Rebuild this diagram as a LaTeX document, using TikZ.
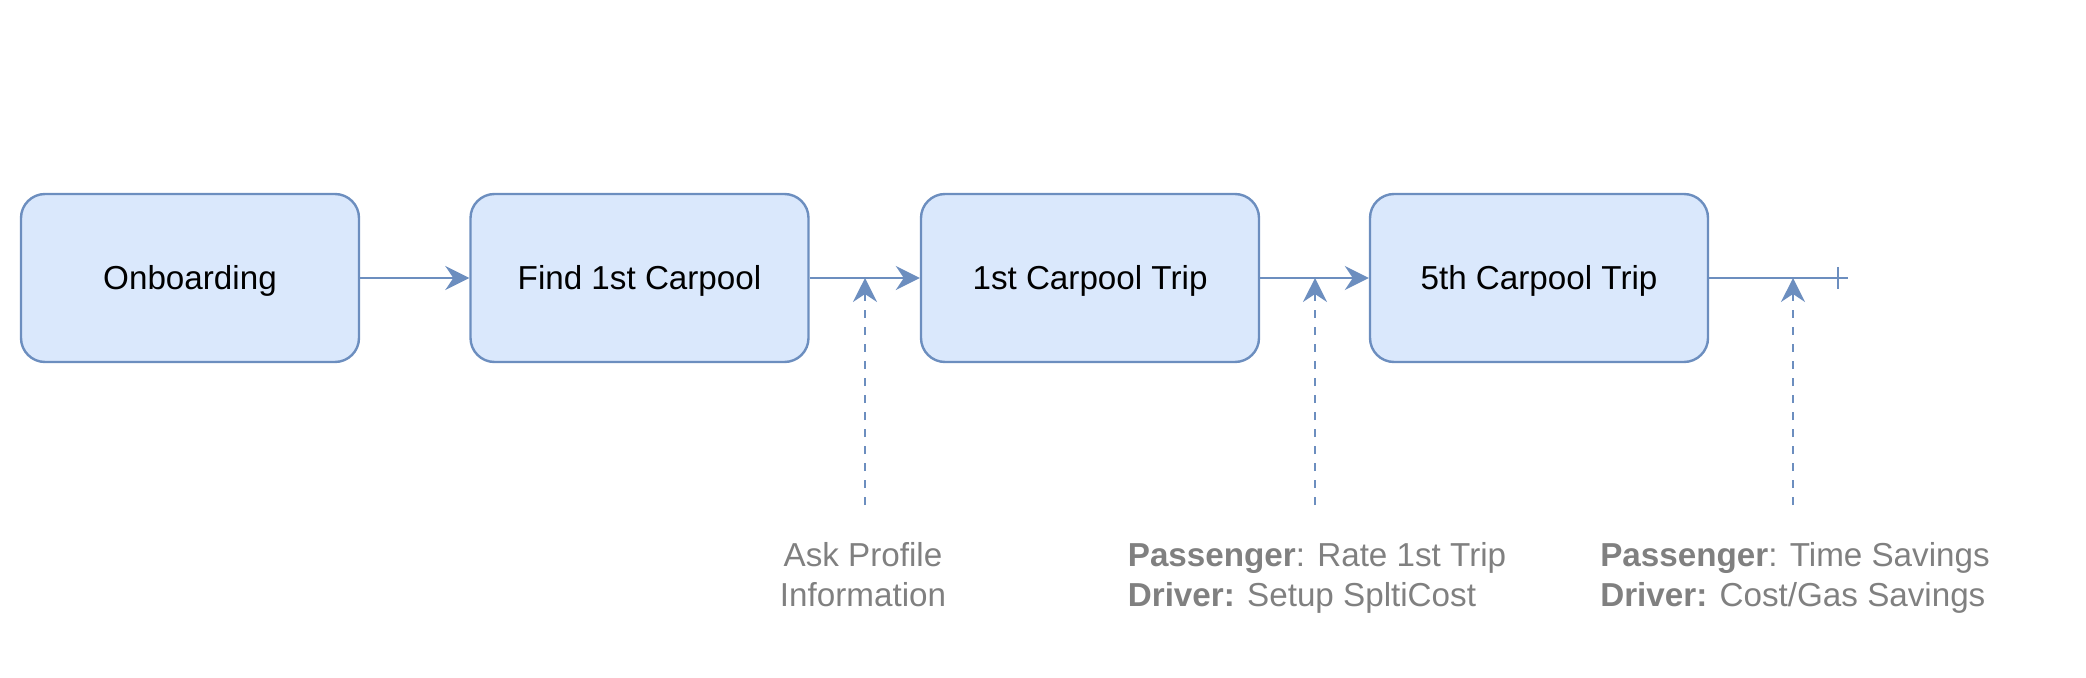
\documentclass[tikz,border=0pt]{standalone}
\usepackage{fontspec}
\setmainfont{Liberation Sans}
\usepackage{xcolor}
\usetikzlibrary{arrows.meta, positioning}

\definecolor{stageline}{HTML}{6C8EBF}
\definecolor{stagefill}{HTML}{DAE8FC}
\definecolor{notegray}{HTML}{808080}

\tikzset{
  stage/.style={draw=stageline, fill=stagefill, line width=1.2pt, rounded corners=12pt,
    minimum width=169pt, minimum height=84pt, text height=11.9pt, text depth=0pt,
    font=\fontsize{16.6}{20}\selectfont},
  flow/.style={draw=stageline, line width=1.2pt, -{Stealth[length=12pt, width=12pt, inset=4pt]}},
  hook/.style={flow, dash pattern=on 4pt off 4.5pt},
  note/.style={text=notegray, align=left, inner sep=0pt, font=\fontsize{16.6}{20}\selectfont}
}

\begin{document}
\begin{tikzpicture}[x=0.5pt, y=-0.5pt]
  \useasboundingbox (0,0) rectangle (2086,678);

  % Stages
  \node[stage] (onboard) at (190,278) {Onboarding};
  \node[stage] (find) at (639.5,278) {Find 1st Carpool};
  \node[stage] (first) at (1090,278) {1st Carpool Trip};
  \node[stage] (fifth) at (1539,278) {5th Carpool Trip};

  % Flow
  \draw[flow] (onboard) -- (find);
  \draw[flow] (find) -- (first);
  \draw[flow] (first) -- (fifth);
  \coordinate (tail) at (1848,278);
  \coordinate (tick) at (1838,278);
  \draw[stageline, line width=1.2pt] (fifth.east) -- (tail);
  \draw[stageline, line width=1.2pt] (tick) ++(0,-11) -- ++(0,22);

  % Touch points
  \coordinate (askon) at (865,278);
  \coordinate (askfrom) at (865,505);
  \coordinate (rateon) at (1315,278);
  \coordinate (ratefrom) at (1315,505);
  \coordinate (saveon) at (1793,278);
  \coordinate (savefrom) at (1793,505);
  \draw[hook] (askfrom) -- (askon);
  \draw[hook] (ratefrom) -- (rateon);
  \draw[hook] (savefrom) -- (saveon);

  % Notes
  \node[note, align=center, anchor=north] (ask) at (863,542) {Ask Profile\\Information};
  \node[note, anchor=north] (rate) at (1317,542) {\textbf{Passenger}: Rate 1st Trip\\\textbf{Driver:} Setup SpltiCost};
  \node[note, anchor=north] (save) at (1795,542) {\textbf{Passenger}: Time Savings\\\textbf{Driver:} Cost/Gas Savings};
\end{tikzpicture}
\end{document}
